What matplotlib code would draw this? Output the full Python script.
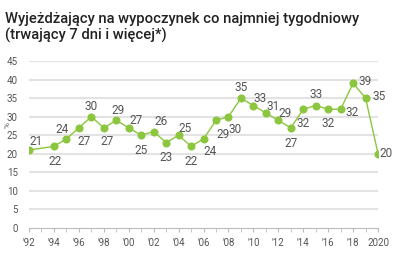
import matplotlib
matplotlib.use('Agg')
import matplotlib.pyplot as plt

years = [1992, 1994, 1995, 1996, 1997, 1998, 1999, 2000, 2001, 2002, 2003, 2004, 2005, 2006,
         2007, 2008, 2009, 2010, 2011, 2012, 2013, 2014, 2015, 2016, 2017, 2018, 2019, 2020]
values = [21, 22, 24, 27, 30, 27, 29, 27, 25, 26, 23, 25, 22, 24,
          29, 30, 35, 33, 31, 29, 27, 32, 33, 32, 32, 39, 35, 20]
# label offsets in points (dx, dy)
offsets = [(5, 6), (1, -11), (-3, 7), (4, -10), (0, 7), (2, -10), (1, 7), (5, 5), (0, -11), (5, 7),
           (0, -11), (5, 5), (0, -11), (5, -9), (5, -10), (5, -9), (0, 8), (5, 5), (5, 5), (5, 5),
           (0, -11), (0, -10), (0, 8), (0, -10), (8, -2), (9, 1), (10, 1), (6, 0)]
xtick_pos = list(range(1992, 2021, 2))
xtick_lab = ["'%02d" % (y % 100) for y in range(1992, 2020, 2)] + ['2020']

green = '#8cc63f'
grey = '#555555'

plt.rcParams['font.family'] = 'Roboto'
fig = plt.figure(figsize=(3.99, 2.65), dpi=100)
ax = fig.add_axes([0.0727, 0.1396, 0.8748, 0.6302])

ax.set_ylim(0, 45)
ax.set_xlim(1992, 2020)
ax.set_yticks(range(0, 46, 5))
for y in range(5, 46, 5):
    ax.axhline(y, color='#e3e3e3', lw=1.5, zorder=0)

ax.plot(years, values, color=green, lw=1, marker='o', ms=4.8, zorder=3)
for x, v, (dx, dy) in zip(years, values, offsets):
    ax.annotate(str(v), (x, v), xytext=(dx, dy), textcoords='offset points',
                ha='center', va='center', fontsize=8.5, color=grey)

ax.set_xticks(xtick_pos)
ax.set_xticklabels(xtick_lab)
ax.set_xticks(range(1992, 2021), minor=True)
for s in ['top', 'right', 'left']:
    ax.spines[s].set_visible(False)
ax.spines['bottom'].set_color('#bbbbbb')
ax.tick_params(axis='x', which='both', length=3, color='#bbbbbb', labelsize=7, labelcolor=grey, pad=4)
ax.tick_params(axis='y', length=0, labelsize=7, labelcolor=grey, pad=8)
fig.text(0.018, 0.528, '%', rotation=90, fontsize=6, color=grey, ha='center', va='center')

fig.text(0.013, 0.955, 'Wyjeżdżający na wypoczynek co najmniej tygodniowy\n(trwający 7 dni i więcej*)',
         fontsize=10.6, color='#222222', va='top', ha='left', linespacing=1.2, fontweight='medium')

fig.savefig('out.png', dpi=100)
